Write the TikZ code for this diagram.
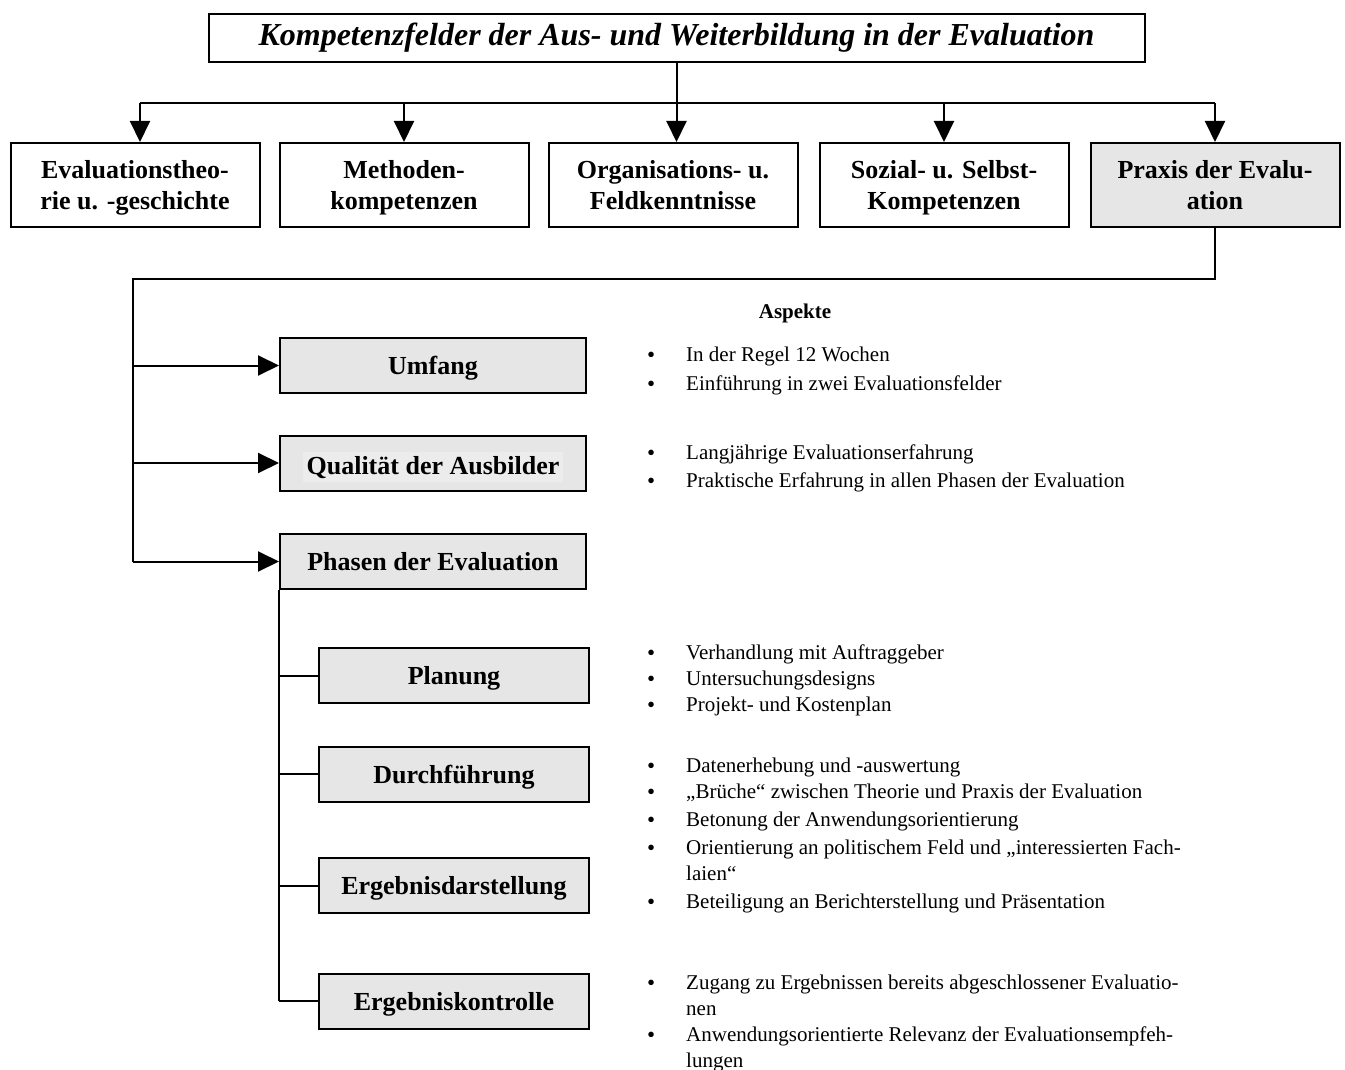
\documentclass[tikz,border=0pt]{standalone}
\usepackage{fontspec}
\setmainfont{Liberation Serif}
\usetikzlibrary{positioning, arrows.meta}
\definecolor{feld}{HTML}{E6E6E6}
\definecolor{feldhell}{HTML}{ECECEC}
\newcommand{\bul}{\raisebox{-1pt}[0pt][0pt]{\fontsize{23}{26}\selectfont\textbullet}}
\tikzset{
  fld/.style={draw=black, fill=#1, line width=2pt, align=center, inner sep=2pt, text depth=0pt,
              font=\fontsize{26}{31}\selectfont\bfseries, minimum width=249pt, minimum height=84pt},
  fld/.default=white,
  asp/.style={fld=feld, minimum width=306pt, minimum height=55pt},
  phs/.style={fld=feld, minimum width=270pt, minimum height=55pt},
  kopf/.style={draw=black, line width=2pt, font=\fontsize{32}{38}\selectfont\bfseries\itshape,
               minimum width=936pt, minimum height=48pt},
  arr/.style={-{Triangle[length=21pt, width=20pt]}, line width=2pt},
  lin/.style={line width=2pt},
  pkt/.style={anchor=base west, inner sep=0pt, font=\fontsize{21}{26}\selectfont},
  ueb/.style={inner sep=0pt, font=\fontsize{21}{26}\selectfont\bfseries},
}

\begin{document}
\begin{tikzpicture}[x=1pt, y=-1pt]
        \useasboundingbox (0,0) rectangle (1345,1070);
        \node[kopf] (ttl) at (676.5,38) {Kompetenzfelder der Aus- und Weiterbildung in der Evaluation};
        \node[fld] (th)  at (135,185) {Evaluationstheo-\\rie u. -geschichte};
        \node[fld] (me)  at (404,185) {Methoden-\\kompetenzen};
        \node[fld] (org) at (673,185) {Organisations- u.\\Feldkenntnisse};
        \node[fld] (soz) at (944,185) {Sozial- u. Selbst-\\Kompetenzen};
        \node[fld=feld] (prx) at (1215,185) {Praxis der Evalu-\\ation};
        \coordinate (gab) at (676,103);
        \draw[lin] ([xshift=5pt]th.north |- gab) -- (prx.north |- gab);
        \draw[arr] (ttl) -- (ttl |- org.north);
        \draw[arr] ([xshift=5pt]th.north |- gab) -- ([xshift=5pt]th.north);
        \foreach \n in {me,soz,prx} \draw[arr] (\n |- gab) -- (\n);
        % Praxis der Evaluation
        \node[asp] (umf)  at (433,365.5) {Umfang};
        \node[asp] (qual) at (433,463) {\setlength{\fboxsep}{4pt}\colorbox{feldhell}{Qualität der Ausbilder}};
        \node[asp] (pha)  at (433,561.5) {Phasen der Evaluation};
        \coordinate (knick) at (133,279);
        \draw[lin] (prx) |- (knick) -- (knick |- pha);
        \foreach \n in {umf,qual,pha} \draw[arr] (knick |- \n) -- (\n);
        \node[phs] (plan)  at (454,675.5) {Planung};
        \node[phs] (durch) at (454,774) {Durchführung};
        \node[phs] (darst) at (454,885.5) {Ergebnisdarstellung};
        \node[phs] (kontr) at (454,1001) {Ergebniskontrolle};
        \draw[lin] (pha.south west) -- (pha.south west |- kontr);
        \foreach \n in {plan,durch,darst,kontr} \draw[lin] (pha.south west |- \n) -- (\n);
        % Aspekte
        \node[ueb] (ueb) at (795,313) {Aspekte};
        \node[pkt] (lumf) at (647,361) {\begin{tabular}[t]{@{}p{39pt}@{}l@{}}
            \bul & In der Regel 12 Wochen\\[3pt]
            \bul & Einführung in zwei Evaluationsfelder\end{tabular}};
        \node[pkt] (lqual) at (647,459) {\begin{tabular}[t]{@{}p{39pt}@{}l@{}}
            \bul & Langjährige Evaluationserfahrung\\[2pt]
            \bul & Praktische Erfahrung in allen Phasen der Evaluation\end{tabular}};
        \node[pkt] (lplan) at (647,659) {\begin{tabular}[t]{@{}p{39pt}@{}l@{}}
            \bul & Verhandlung mit Auftraggeber\\
            \bul & Untersuchungsdesigns\\
            \bul & Projekt- und Kostenplan\end{tabular}};
        \node[pkt] (ldurch) at (647,772) {\begin{tabular}[t]{@{}p{39pt}@{}l@{}}
            \bul & Datenerhebung und -auswertung\\
            \bul & „Brüche“ zwischen Theorie und Praxis der Evaluation\end{tabular}};
        \node[pkt] (ldarst) at (647,826) {\begin{tabular}[t]{@{}p{39pt}@{}l@{}}
            \bul & Betonung der Anwendungsorientierung\\[2pt]
            \bul & Orientierung an politischem Feld und „interessierten Fach-\\
                 & laien“\\[2pt]
            \bul & Beteiligung an Berichterstellung und Präsentation\end{tabular}};
        \node[pkt] (lkontr) at (647,989) {\begin{tabular}[t]{@{}p{39pt}@{}l@{}}
            \bul & Zugang zu Ergebnissen bereits abgeschlossener Evaluatio-\\
                 & nen\\
            \bul & Anwendungsorientierte Relevanz der Evaluationsempfeh-\\
                 & lungen\end{tabular}};
      \end{tikzpicture}
\end{document}
